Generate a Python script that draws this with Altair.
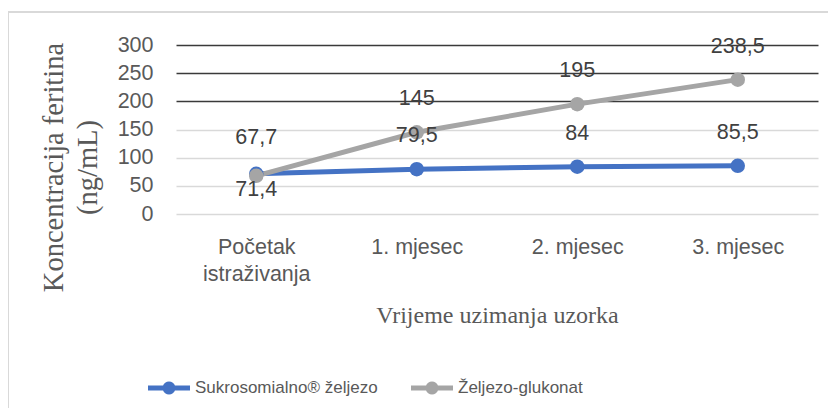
import math
import altair as alt
import pandas as pd

categories = ["Početak istraživanja", "1. mjesec", "2. mjesec", "3. mjesec"]
series_names = ["Sukrosomialno® željezo", "Željezo-glukonat"]
sukro = [71.4, 79.5, 84, 85.5]
glukonat = [67.7, 145, 195, 238.5]
y_ticks = [0, 50, 100, 150, 200, 250, 300]
colors = ["#4472C4", "#A5A5A5"]

rows = []
for s, vals in zip(series_names, [sukro, glukonat]):
    for c, v in zip(categories, vals):
        rows.append({"cat": c, "series": s, "value": v})
df = pd.DataFrame(rows)

SANS = "Liberation Sans"
SERIF = "Liberation Serif"

x_enc = alt.X(
    "cat:N",
    sort=categories,
    scale=alt.Scale(domain=categories),
    axis=alt.Axis(
        title="Vrijeme uzimanja uzorka",
        titleFont=SERIF, titleFontSize=24, titleFontWeight="normal", titleColor="#595959",
        titleX=321, titleY=108, titleBaseline="alphabetic", titleAlign="center",
        labelAngle=0, labelFont=SANS, labelFontSize=21.5, labelColor="#595959",
        labelPadding=39, labelBaseline="alphabetic", labelLineHeight=27,
        labelOverlap=False, labelLimit=300,
        labelExpr="datum.value == 'Početak istraživanja' ? ['Početak', 'istraživanja'] : datum.label",
        domain=False, ticks=False, grid=False,
    ),
)
y_enc = alt.Y(
    "value:Q",
    scale=alt.Scale(domain=[0, 300], nice=False),
    axis=alt.Axis(
        values=y_ticks,
        title=["Koncentracija feritina", "(ng/mL)"],
        titleFont=SERIF, titleFontSize=28.5, titleFontWeight="normal", titleColor="#595959",
        titleAngle=270, titleX=-114, titleY=122, titleAlign="center",
        titleBaseline="alphabetic", titleLineHeight=34,
        labelFont=SANS, labelFontSize=21.5, labelColor="#595959", labelPadding=23,
        domain=False, ticks=False, grid=True,
        gridColor={"condition": {"test": "datum.value >= 200", "value": "#3A3A3A"}, "value": "#D9D9D9"},
        gridWidth={"condition": {"test": "datum.value >= 200", "value": 1.6}, "value": 1.3},
    ),
)

color_scale = alt.Scale(domain=series_names, range=colors)

# legend glyph: a line segment with a dot in the middle (unit space [-1, 1])
_r = 0.31
_poly = " ".join(
    ("M" if k == 0 else "L") + f"{_r * math.cos(2 * math.pi * k / 20):.4f},{_r * math.sin(2 * math.pi * k / 20):.4f}"
    for k in range(20)
)
SYMBOL = "M-1,-0.12L1,-0.12L1,0.12L-1,0.12Z " + _poly + "Z"

base = alt.Chart(df)

line_layers = [
    base.transform_filter(alt.datum.series == s)
    .mark_line(color=c, strokeWidth=5)
    .encode(x=x_enc, y=y_enc)
    for s, c in zip(series_names, colors)
]
points = base.mark_point(filled=True, size=210, opacity=1).encode(
    x=x_enc, y=y_enc,
    color=alt.Color(
        "series:N", scale=color_scale, sort=series_names,
        legend=alt.Legend(
            orient="none", legendX=-28, legendY=322, direction="horizontal",
            title=None, symbolType=SYMBOL, symbolSize=1764, symbolStrokeWidth=0,
            labelFont=SANS, labelFontSize=17, labelColor="#595959",
            labelOffset=5, columnPadding=33, labelLimit=400,
        ),
    ),
)

lab = base.transform_calculate(
    label="replace(toString(datum.value), '.', ',')"
)
text_common = dict(font=SANS, fontSize=21.5, color="#404040", baseline="middle", align="center")
labels_main = lab.transform_filter(
    alt.datum.cat != categories[0]
).mark_text(dy=-33, **text_common).encode(x=x_enc, y=y_enc, text="label:N")
label_first_gray = lab.transform_filter(
    (alt.datum.cat == categories[0]) & (alt.datum.series == series_names[1])
).mark_text(dy=-38, **text_common).encode(x=x_enc, y=y_enc, text="label:N")
label_first_blue = lab.transform_filter(
    (alt.datum.cat == categories[0]) & (alt.datum.series == series_names[0])
).mark_text(dy=16, **text_common).encode(x=x_enc, y=y_enc, text="label:N")

border_df = pd.DataFrame({"a": [0]})
border_top = alt.Chart(border_df).mark_rule(color="#D9D9D9", strokeWidth=2, clip=False).encode(
    x=alt.value(-168), x2=alt.value(660), y=alt.value(-33)
)
border_left = alt.Chart(border_df).mark_rule(color="#D9D9D9", strokeWidth=2, clip=False).encode(
    x=alt.value(-168), y=alt.value(-33), y2=alt.value(380)
)

chart = alt.layer(
    border_top, border_left, *line_layers, points, labels_main, label_first_gray, label_first_blue
).properties(
    width=642, height=169,
    autosize=alt.AutoSizeParams(type="none"),
    padding={"left": 168, "top": 37, "right": 10, "bottom": 194},
    background="white",
).configure_view(stroke=None)

chart.save("out.html", embed_options={"renderer": "svg", "actions": False})
